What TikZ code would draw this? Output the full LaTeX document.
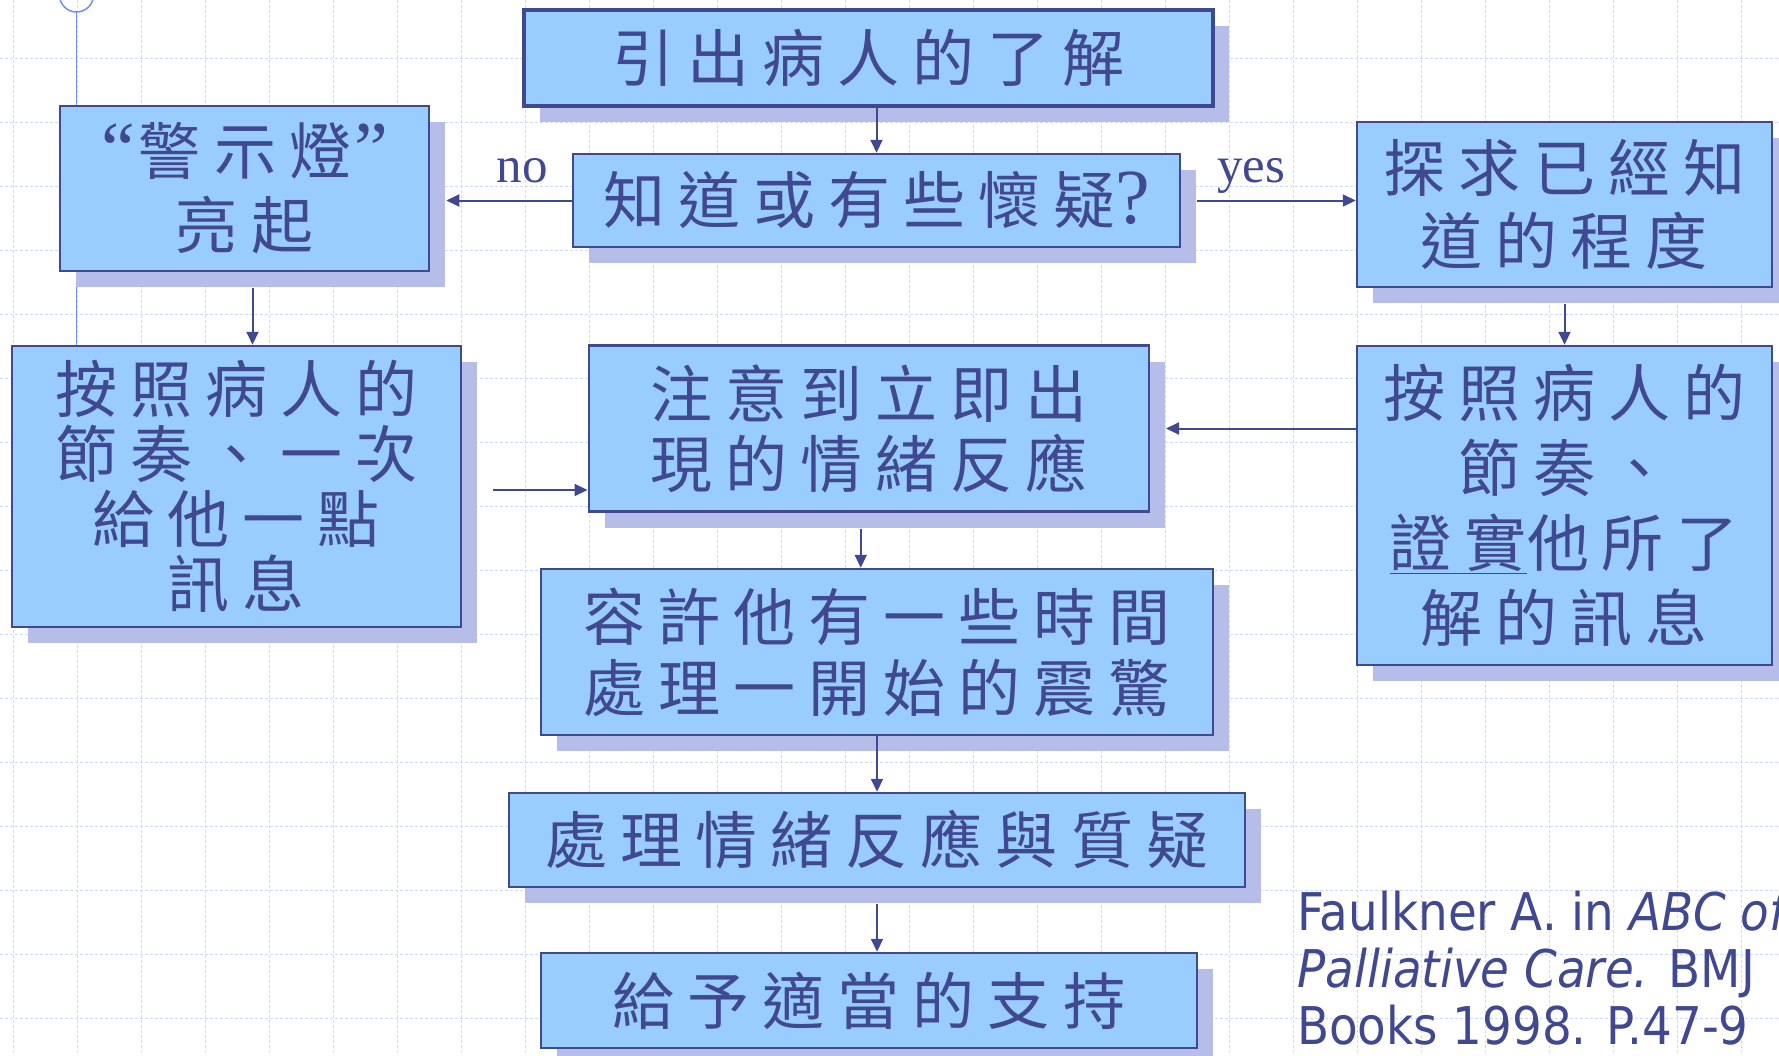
\documentclass[tikz,border=0pt]{standalone}
\usepackage{fontspec}
\setmainfont{Liberation Serif}
\newfontfamily\cjk[LetterSpace=21]{Noto Sans CJK TC}
\newfontfamily\tah[FakeStretch=0.9]{DejaVu Sans}
\usetikzlibrary{arrows.meta,shadows,calc}
\definecolor{boxfill}{HTML}{99CCFF}
\definecolor{shadowc}{HTML}{B5BDE8}
\definecolor{navy}{HTML}{404890}
\definecolor{gridc}{HTML}{CCDCFA}
\definecolor{linec}{HTML}{7090F0}
\pgfdeclarelayer{bg}
\pgfsetlayers{bg,main}
\newcommand\bigq[1]{{\rmfamily\fontsize{76}{70}\selectfont #1}}
\newcommand\bigqm{{\rmfamily\fontsize{78}{70}\selectfont ?}}
\tikzset{
  flowbox/.style={draw=navy, line width=2.5pt, fill=boxfill, text=navy, inner sep=0pt, align=center,
    drop shadow={shadow xshift=16pt, shadow yshift=-16pt, fill=shadowc, opacity=1}},
  cjkfont/.style={font=\cjk\fontsize{62}{#1}\selectfont},
  arr/.style={draw=navy, line width=2pt, -{Triangle[length=13pt,width=12pt]}},
  lbl/.style={text=navy, inner sep=0pt, font=\rmfamily\fontsize{51}{60}\selectfont},
  cite/.style={text=navy, inner sep=0pt, anchor=base west, font=\tah\fontsize{52}{57}\selectfont},
}
\begin{document}
\begin{tikzpicture}[x=1pt,y=-1pt]
\useasboundingbox (0,0) rectangle (1779,1055);
\clip (0,0) rectangle (1779,1055);

% boxes
\node[flowbox, line width=4pt, cjkfont=70, minimum width=689pt, minimum height=96pt] (A) at (868.5,58) {引出病人的了解};
\node[flowbox, cjkfont=70, minimum width=607pt, minimum height=93pt] (B) at (876.5,200.5) {知道或有些懷疑\bigqm};
\node[flowbox, cjkfont=74, minimum width=369pt, minimum height=165pt] (C) at (244.5,188.5) {\bigq{“}\kern4pt 警示燈\kern3pt\bigq{”}\\亮起};
\node[flowbox, cjkfont=73, minimum width=415pt, minimum height=165pt] (D) at (1564.5,204.5) {探求已經知\\道的程度};
\node[flowbox, cjkfont=65, minimum width=449pt, minimum height=281pt] (E) at (236.5,486.5) {按照病人的\\節奏、一次\\給他一點\\訊息};
\node[flowbox, cjkfont=70, minimum width=560pt, minimum height=166pt] (F) at (868.75,428.5) {注意到立即出\\現的情緒反應};
\node[flowbox, cjkfont=75, minimum width=415pt, minimum height=319pt] (G) at (1564.5,505.5) {按照病人的\\節奏、\\\underline{證實}他所了\\解的訊息};
\node[flowbox, cjkfont=71, minimum width=672pt, minimum height=166pt] (H) at (877,652) {容許他有一些時間\\處理一開始的震驚};
\node[flowbox, cjkfont=70, minimum width=736pt, minimum height=94pt] (I) at (877,840) {處理情緒反應與質疑};
\node[flowbox, cjkfont=70, minimum width=656pt, minimum height=95pt] (J) at (869,1000.5) {給予適當的支持};

% background: grid, circle and line
\begin{pgfonlayer}{bg}
\fill[white] (0,0) rectangle (1779,1055);
\foreach \gx in {13,77,...,1779} \draw[gridc, line width=1pt, dash pattern=on 3pt off 2pt] (\gx,0) -- (\gx,1055);
\foreach \gy in {58,122,...,1055} \draw[gridc, line width=1pt, dash pattern=on 3pt off 2pt] (0,\gy) -- (1779,\gy);
\coordinate (circ) at (76.5,-5);
\draw[linec, line width=1.5pt] (circ) circle (17pt);
\draw[linec, line width=1.5pt] ([yshift=-17pt]circ) -- (circ |- E.north);
\end{pgfonlayer}

% connectors
\draw[arr] (A.south -| B.north) -- (B.north);
\draw[arr] (B.west) -- ([xshift=16pt]C.east |- B.west);
\draw[arr] ([xshift=16pt]B.east) -- (D.west |- B.east);
\coordinate (c1) at ([shift={(8pt,-16pt)}]C.south);
\draw[arr] (c1) -- (c1 |- E.north);
\draw[arr] ([yshift=-16pt]D.south) -- (G.north);
\coordinate (e1) at ([shift={(31pt,-3.5pt)}]E.east);
\draw[arr] (e1) -- (e1 -| F.west);
\draw[arr] (G.west |- F.east) -- ([xshift=16pt]F.east);
\coordinate (f1) at ([shift={(-8pt,-16pt)}]F.south);
\draw[arr] (f1) -- (f1 |- H.north);
\draw[arr] (H.south) -- (I.north);
\draw[arr] ([yshift=-16pt]I.south) -- (J.north -| I.south);

% labels
\node[lbl, anchor=base] (no) at (522,182) {no};
\node[lbl, anchor=base] (yes) at (1251,182) {yes};

% citation
\node[cite] (cite1) at (1297,930) {Faulkner A. in \textit{ABC of}};
\node[cite] (cite2) at (1297,987) {\textit{Palliative Care.} BMJ};
\node[cite] (cite3) at (1297,1044) {Books 1998. P.47-9};
\end{tikzpicture}
\end{document}
